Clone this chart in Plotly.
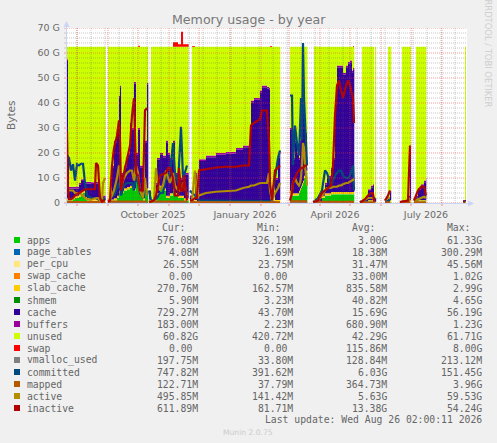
# Munin "Memory usage - by year" graph redrawn with plotly
from datetime import datetime, timedelta
import plotly.graph_objects as go

W, H = 497, 443
LEFT, RIGHT, TOP, BOTTOM = 67, 30, 28, 240

start = datetime(2025, 7, 22)
end = datetime(2026, 8, 26)

# sample days, counted from the start date. one row per uptime block of the host
days = [
    0, 1, 2, 4, 6, 8, 10, 12, 14, 16, 18, 20, 24, 28, 29, 31, 33, 35, 36, 38, 38.6,
    41, 43, 45, 47, 50, 52, 53, 54, 57, 60, 63, 65, 67, 69, 71, 73, 76, 78, 80, 81.3, 82,
    84, 87, 89, 90, 93, 96, 99, 101, 103, 106, 108, 111, 112, 114, 116, 117, 120, 121.7, 123,
    125, 128, 130, 132, 139, 149, 159, 169, 176, 182, 184, 187, 193, 195, 200, 202, 203, 205, 208, 211, 213, 213.3,
    223, 225, 226, 228, 230, 232, 233, 234, 235, 236, 237, 238, 240, 240.4,
    246, 247, 251, 255, 258, 260, 264, 266, 268, 270, 272, 274, 276, 279, 281, 283, 285, 286, 287, 287.3,
    293, 295, 298, 301, 304, 306, 307, 308, 309.2,
    318, 321, 323, 324.2,
    333, 335, 338, 341, 343, 344,
    347, 349, 351, 354, 357, 359, 359.3,
    396, 398, 399,
]

# all values in GB
apps = [
    1, 1, 1, 1, 1.5, 2, 2, 2.5, 3.5, 4, 1.5, 1, .8, .8, .8, .8, .5, .3, .3, .3, 0,
    .2, .3, .5, 1, 2, 4, 4.5, 4, 5, 5.5, 6, 6, 5, 9, 6, 3, 1, 4, 5, 0, .5,
    .2, .3, 1, 3, 6, 5, 2, 2, 3, 5, 3, 2, 2, 2, 2, 1, 1, 0, .2,
    .2, .3, .3, .3, .3, .3, .3, .3, .3, .3, .3, .3, .3, .3, .3, .3, .1, .2, .3, .3, .3, 0,
    3, 3, 3, 3, 3, 4, 5, 6, 7, 8, 10, 12, 12, 0,
    .1, .1, .5, 2, 3, 3, 3.5, 3.5, 3.5, 3.5, 3.5, 3.5, 3.5, 3.5, 3.5, 3.5, 3.5, 3.5, 3.5, 0,
    .05, .1, .2, .3, .3, .3, .2, .2, 0,
    .1, .2, .3, 0,
    .05, .1, .1, .3, .3, 0,
    .2, .3, .3, .3, .3, .3, 0,
    .1, .3, 0,
]
slab_cache = [
    .8, .8, .8, .8, .8, .8, .8, .8, .8, .8, .8, .8, .8, .8, .8, .8, .2, .2, .8, .8, 0,
    .2, .2, .8, .8, .8, .8, .8, .8, .8, .8, .8, .8, .8, .8, .8, .8, .8, .8, .8, 0, .8,
    .2, .2, .8, .8, .8, .8, .8, .8, .8, .8, .8, .8, .8, .8, .8, .8, .8, 0, .8,
    .2, .8, .2, .8, .8, .8, .8, .8, .8, .8, .8, .8, .8, .8, .8, .8, .2, .2, .8, .8, .8, 0,
    .8, .8, .8, .8, .8, .8, .8, .8, .8, .8, .8, .8, .8, 0,
    .2, .2, .2, .8, .8, .8, .8, .8, .8, .8, .8, .8, .8, .8, .8, .8, .8, .8, .8, 0,
    .1, .2, .2, .8, .8, .8, .2, .2, 0,
    .2, .2, .8, 0,
    .1, .2, .2, .8, .8, 0,
    .2, .8, .8, .8, .8, .8, 0,
    .2, .2, 0,
]
cache = [
    54.9, 16.4, 3.9, 3.9, 3.4, 2.9, 2.9, 3.9, 4.4, 3.9, 5.4, 5.9, 5.9, 5.9, 6.1, 6.1, 1.1, .3, 1.1, 1.1, 0,
    .4, .3, 12.9, 22.4, 26.4, 37.4, 40.9, 6.4, 8.4, 12.9, 24.4, 22.4, 41.9, 9.4, 22.4, 10.4, 5.4, 19.4, 41.4, 0, 2.9,
    .4, .3, 5.4, 13.4, 12.4, 12.4, 21.4, 16.4, 13.4, 18.4, 7.4, 4.4, 6.4, 6.4, 6.4, 9.4, 9.4, 0, 1.2,
    .4, 10.1, 1.3, 15.6, 17.1, 18.1, 18.6, 20.1, 21.1, 21.6, 39.1, 40.1, 43.1, 45.1, 44.6, 44.1, .3, .4, 8.1, 17.1, 19.1, 0,
    25.4, 23.4, 13.4, 20.4, 15.4, 12.4, 18.4, 30.4, 26.4, 45.4, 33.4, 14.4, .4, 0,
    .1, .2, 1.1, .4, 3.4, 6.4, 8.9, 12.9, 34.9, 49.9, 49.9, 49.9, 46.9, 49.9, 51.4, 51.9, 47.9, 48.9, 48.9, 0,
    0, .5, 1.4, 3.6, 5.1, 5.6, 1.4, 1.4, 0,
    .3, 1.9, 3.1, 0,
    0, .3, .5, 1.1, 21.1, 0,
    1.4, 1.1, 4.1, 5.6, 7.1, 8.1, 0,
    .1, .6, 0,
]
buffers = [
    .7, .7, .7, .7, .7, .7, .7, .7, .7, .7, .7, .7, .7, .7, .7, .7, .1, .1, .7, .7, 0,
    .1, .1, .7, .7, .7, .7, .7, .7, .7, .7, .7, .7, .7, .7, .7, .7, .7, .7, .7, 0, .7,
    .1, .1, .7, .7, .7, .7, .7, .7, .7, .7, .7, .7, .7, .7, .7, .7, .7, 0, .7,
    .1, .7, .1, .7, .7, .7, .7, .7, .7, .7, .7, .7, .7, .7, .7, .7, .1, .1, .7, .7, .7, 0,
    .7, .7, .7, .7, .7, .7, .7, .7, .7, .7, .7, .7, .7, 0,
    .1, .1, .1, .7, .7, .7, .7, .7, .7, .7, .7, .7, .7, .7, .7, .7, .7, .7, .7, 0,
    .05, .1, .1, .7, .7, .7, .1, .1, 0,
    .1, .1, .7, 0,
    .05, .1, .1, .7, .7, 0,
    .1, .7, .7, .7, .7, .7, 0,
    .1, .1, 0,
]
unused = [
    5, 43.5, 56, 56, 56, 56, 56, 54.5, 53, 53, 54, 54, 54.2, 54.2, 54, 54, 60.5, 61.5, 59.5, 59.5, 0,
    61.5, 61.5, 47.5, 37.5, 32.5, 19.5, 15.5, 50.5, 47.5, 42.5, 30.5, 32.5, 14, 42.5, 32.5, 47.5, 54.5, 37.5, 14.5, 0, 0,
    61.5, 61.5, 54.5, 44.5, 42.5, 43.5, 37.5, 42.5, 44.5, 37.5, 50.5, 54.5, 52.5, 52.5, 52.5, 50.5, 50.5, 0, 0,
    61.5, 50.5, 60.5, 45, 43.5, 42.5, 42, 40.5, 39.5, 39, 21.5, 20.5, 17.5, 15.5, 16, 16.5, 61.7, 61.5, 52.5, 43.5, 41.5, 0,
    32.5, 34.5, 44.5, 37.5, 42.5, 44.5, 37.5, 24.5, 27.5, 7.5, 17.5, 34.5, 48.5, 0,
    0, 61.9, 60.5, 58.5, 54.5, 51.5, 48.5, 44.5, 22.5, 7.5, 7.5, 7.5, 10.5, 7.5, 6, 5.5, 9.5, 8.5, 8.5, 0,
    0, 61.5, 60.5, 57, 55.5, 55, 0, 60.5, 0,
    0, 60, 57.5, 0,
    0, 61.7, 61.5, 59.5, 39.5, 0,
    0, 59.5, 56.5, 55, 53.5, 52.5, 0,
    0, 61.2, 0,
]
swap = [
    0, 0, 0, 0, 0, 0, 0, 0, 0, 0, 0, 0, 0, 0, 0, 0, 0, 0, 0, 0, 0,
    0, 0, 0, 0, 0, 0, 0, 0, 0, 0, 0, 0, 0, 0, .4, 0, 0, 0, 0, 0, 0,
    0, 0, 0, 0, 0, 0, 0, 0, 0, 1.8, 1.8, 1, 1, 6, 1, 1, 1, 0, 0,
    .3, 0, 0, 0, 0, 0, 0, 0, 0, 0, 0, 0, 0, 0, 0, 0, .3, 0, 0, 0, 0, 0,
    0, 0, 0, 0, 0, 0, 0, 0, 0, 0, 0, 0, 0, 0,
    0, 0, 0, 0, 0, 0, 0, 0, 0, 0, 0, 0, 0, 0, 0, 0, 0, .3, 0, 0,
    0, 0, 0, 0, 0, 0, 0, 0, 0,
    0, 0, 0, 0,
    0, 0, 0, 0, 0, 0,
    0, 0, 0, 0, 0, 0, 0,
    0, 0, 0,
]
committed = [
    18, 18.5, 18, 13, 15.5, 9, 15.5, 15, 15.7, 15.7, 8, 3, 2, 2, 2, 1.5, 1, 1, 2, 1, None,
    .5, 1, 3, 3, 6, 8, 7, 3, 7, 8, 8, 8, 5, 11, 8, 4, 2, 7, 3, None, 5,
    1, 1, 1.5, 2, 4, 4, 10, 10, 12, 24, 12, 8, 15, 30.5, 10, 11, 15, None, 5,
    4, 3, 2, 1, 1, 1, .8, .8, .8, .8, .8, .8, .8, .8, .8, .8, .8, 2, 10, 18, 21, None,
    43, 43, 15, 31, 24, 19, 30, 42, 25, 64, 42, 32, 15, None,
    .5, .6, 2, 5, 13, 12, 7, 9, 11, 12, 13, 13, 11, 10, 10, 11, 14, 15, 5, None,
    .3, .8, 1, 2, 2, 2, 2, 2, None,
    .8, 1, 1.5, None,
    .3, .5, .8, 1, 2, None,
    1, 1, 1.5, 2, 2.5, 2.5, None,
    .7, .75, None,
]
active = [
    4, 5, 5, 5, 5, 4, 4, 4, 3.5, 3, 2, 1.5, 1.3, 2, 2, 2, 1, 1, 8, 10, None,
    1, 1.5, 3, 5, 10, 15, 12, 6, 10, 12, 13, 13, 9, 15, 12, 5, 2, 10, 3, None, 1,
    .5, .5, 14, 10, 5, 7, 13, 10, 8, 12, 7, 5, 5, 5, 8, 8, 3, None, 1,
    1, 13, 2, 3, 4, 4.5, 4.7, 5, 6, 6.5, 7, 7, 8, 8, 8, 12, 5, 1, 4, 6, 8, None,
    4, 5, 8, 10, 8, 7, 8, 10, 16, 24, 22, 15, 7, None,
    .5, .5, 1, 3, 5, 6, 6, 6.5, 6.5, 6.5, 7, 7, 7.5, 8, 8, 8.5, 9, 9.5, 9.5, None,
    .3, .8, 1.5, 2, 2, 2, 1, 1, None,
    1, 2, 2, None,
    .4, .6, .8, 1, 2, None,
    .8, 1, 1.5, 2, 2.5, 2, None,
    .5, .5, None,
]
inactive = [
    29, 5, 1.5, 1.5, 2, 3, 3.5, 4, 4.5, 5, 5.5, 5.5, 5.5, 5.5, 16, 15, 2, .5, 1, 1, None,
    .5, 1, 15, 22, 27, 33, 25, 5, 12, 17, 23, 35, 42, 12, 11, 5, 5, 37, 38, None, .5,
    .5, 1, 3, 5, 11, 11.5, 12, 14, 14, 10, 3, 3, 14, 5, 5, 11, 1, None, 1,
    1, 2, 2, 13, 13.5, 14.2, 14.5, 14.5, 15, 15, 31, 32, 33.5, 37, 37, 25, 8, 1, 13, 14, 15, None,
    1, 4, 8, 10, 12, 13, 13.5, 14, 14, 14, 14.5, 15, 15, None,
    .3, .4, 1, 4, 5, 5.5, 7, 15, 35, 47, 49, 45, 42, 47, 49, 47, 43, 42, 32, None,
    .3, .6, 1.5, 3, 4, 4, 1, 1, None,
    1, 3, 5, None,
    .4, .6, .8, 1, 23, None,
    1, 3, 5, 6.5, 6.5, 3, None,
    .6, .61, None,
]

# barely visible series, one reading per uptime block
block_rows = [20, 19, 1, 17, 1, 21, 13, 19, 8, 3, 5, 6, 2]
block_gap = [1, 1, 0, 1, 0, 1, 1, 1, 1, 1, 1, 1, 1]
page_tables_blocks = [.02, .03, .02, .03, .02, .02, .03, .03, .01, .01, .01, .01, .01]
per_cpu_blocks = [.03, .03, .03, .03, .03, .03, .03, .03, .03, .03, .03, .03, .03]
swap_cache_blocks = [.01, .02, .01, .02, .01, .01, .02, .02, 0, 0, 0, 0, 0]
shmem_blocks = [.04, .02, .04, .02, .04, .04, .02, .02, .06, .06, .06, .06, .05]
vmalloc_blocks = [.13, .14, .1, .14, .1, .14, .15, .15, .12, .12, .12, .15, .2]
mapped_blocks = [.4, .6, .3, .6, .3, .3, .7, .5, .2, .2, .2, .2, .12]


def per_block(values, gap_value):
    out = []
    for v, rows, gap in zip(values, block_rows, block_gap):
        out += [v] * rows + [gap_value] * gap
    return out


names = ["apps", "page_tables", "per_cpu", "swap_cache", "slab_cache", "shmem", "cache", "buffers",
         "unused", "swap", "vmalloc_used", "committed", "mapped", "active", "inactive"]
colors = ["#00CC00", "#0066B3", "#FFE680", "#FF8000", "#FFCC00", "#008F00", "#330099", "#990099",
          "#CCFF00", "#FF0000", "#808080", "#00487D", "#B35A00", "#B38F00", "#B30000"]
cur_vals = ["576.08M", "4.08M", "26.55M", "0.00\u00a0", "270.76M", "5.90M", "729.27M", "183.00M",
            "60.82G", "0.00\u00a0", "197.75M", "747.82M", "122.71M", "495.85M", "611.89M"]
min_vals = ["326.19M", "1.69M", "23.75M", "0.00\u00a0", "162.57M", "3.23M", "43.70M", "2.23M",
            "420.72M", "0.00\u00a0", "33.80M", "391.62M", "37.79M", "141.42M", "81.71M"]
avg_vals = ["3.00G", "18.38M", "31.47M", "33.00M", "835.58M", "40.82M", "15.69G", "680.90M",
            "42.29G", "115.86M", "128.84M", "6.03G", "364.73M", "5.63G", "13.38G"]
max_vals = ["61.33G", "300.29M", "45.56M", "1.02G", "2.99G", "4.65G", "56.19G", "1.23G",
            "61.71G", "8.00G", "213.12M", "151.45G", "3.96G", "59.53G", "54.24G"]

y_ticks = [0, 10, 20, 30, 40, 50, 60, 70]
y_labels = ["0", "10 G", "20 G", "30 G", "40 G", "50 G", "60 G", "70 G"]
month_lines = ["2025-08-01", "2025-09-01", "2025-10-01", "2025-11-01", "2025-12-01", "2026-01-01",
               "2026-02-01", "2026-03-01", "2026-04-01", "2026-05-01", "2026-06-01", "2026-07-01", "2026-08-01"]
# RRDtool centres the labels between two quarter boundaries
x_label_dates = ["2025-10-16", "2026-01-16", "2026-04-16", "2026-07-16"]
x_labels = ["October 2025", "January 2026", "April 2026", "July 2026"]

dates = [start + timedelta(days=d) for d in days]

stacked = [apps, per_block(page_tables_blocks, 0), per_block(per_cpu_blocks, 0),
           per_block(swap_cache_blocks, 0), slab_cache, per_block(shmem_blocks, 0),
           cache, buffers, unused, swap]
lines = [per_block(vmalloc_blocks, None), committed, per_block(mapped_blocks, None), active, inactive]


def px_x(x):
    return (x - LEFT) / (W - LEFT - RIGHT)


def px_y(y):
    return (H - BOTTOM - y) / (H - TOP - BOTTOM)


fig = go.Figure()

for i, vals in enumerate(stacked):
    fig.add_trace(go.Scatter(
        x=dates, y=vals, name=names[i], mode="lines", stackgroup="mem",
        line=dict(width=0, shape="hv", color=colors[i]),
        fillcolor=colors[i], hoverinfo="skip",
    ))
for i, vals in enumerate(lines):
    fig.add_trace(go.Scatter(
        x=dates, y=vals, name=names[10 + i], mode="lines",
        line=dict(width=2.2, color=colors[10 + i]), hoverinfo="skip",
    ))

# --- grid goes on top of the areas, like rrdgraph does it
shapes = []
minor = "rgba(90,90,90,0.34)"
major = "rgba(240,60,60,0.5)"
for g in range(0, 72, 2):
    shapes.append(dict(type="line", layer="above", xref="paper", x0=0, x1=1, y0=g, y1=g,
                       line=dict(color=major if g % 10 == 0 else minor, width=1, dash="1px,1px")))
for d in range(10, 400, 14):
    day = start + timedelta(days=d)
    shapes.append(dict(type="line", layer="above", x0=day, x1=day, yref="paper", y0=0, y1=1,
                       line=dict(color=minor, width=1, dash="1px,1px")))
for m in month_lines:
    shapes.append(dict(type="line", layer="above", x0=m, x1=m, yref="paper", y0=0, y1=1,
                       line=dict(color=major, width=1, dash="1px,1px")))
    shapes.append(dict(type="line", layer="above", x0=m, x1=m, yref="paper", y0=px_y(206), y1=px_y(203),
                       line=dict(color="rgba(240,90,90,0.7)", width=1)))
for g in range(0, 72, 2):
    shapes.append(dict(type="line", layer="above", xref="paper", yref="y", x0=px_x(64), x1=px_x(67), y0=g, y1=g,
                       line=dict(color="rgba(240,90,90,0.6)" if g % 10 == 0 else "rgba(170,170,170,0.6)", width=1)))

# axis lines with their little arrow heads
axis_col = "#CCD4F5"
shapes.append(dict(type="line", layer="above", xref="paper", yref="paper", x0=px_x(66.5), x1=px_x(66.5),
                   y0=px_y(206), y1=px_y(26), line=dict(color=axis_col, width=1)))
shapes.append(dict(type="line", layer="above", xref="paper", yref="paper", x0=px_x(64), x1=px_x(468),
                   y0=px_y(203.5), y1=px_y(203.5), line=dict(color=axis_col, width=1)))
shapes.append(dict(type="path", layer="above", xref="paper", yref="paper", line=dict(width=0), fillcolor=axis_col,
                   path=f"M {px_x(63.5)} {px_y(27)} L {px_x(69.5)} {px_y(27)} L {px_x(66.5)} {px_y(21)} Z"))
shapes.append(dict(type="path", layer="above", xref="paper", yref="paper", line=dict(width=0), fillcolor=axis_col,
                   path=f"M {px_x(468)} {px_y(200.5)} L {px_x(468)} {px_y(206.5)} L {px_x(474)} {px_y(203.5)} Z"))

# legend table
mono = "DejaVu Sans Mono"
grey = "#666666"
annotations = []


def put_text(x, y, text, anchor="left", size=9.75, family=mono, color=grey, angle=0):
    annotations.append(dict(xref="paper", yref="paper", x=px_x(x), y=px_y(y), text=text, showarrow=False,
                            xanchor=anchor, yanchor="middle", textangle=angle, borderpad=0,
                            font=dict(family=family, size=size, color=color)))


col_right = [199, 293.5, 388, 483]
for x, label in zip([185.5, 280.5, 376, 470.5], ["Cur:", "Min:", "Avg:", "Max:"]):
    put_text(x, 227.5, label, anchor="right")
for i, name in enumerate(names):
    y = 240 + i * 12
    shapes.append(dict(type="rect", layer="above", xref="paper", yref="paper", x0=px_x(14), x1=px_x(20),
                       y0=px_y(y + 3), y1=px_y(y - 3), line=dict(width=0), fillcolor=colors[i]))
    put_text(26, y, name)
    for x, col in zip(col_right, [cur_vals, min_vals, avg_vals, max_vals]):
        put_text(x, y, col[i], anchor="right")
put_text(483, 419.5, "Last update: Wed Aug 26 02:00:11 2026", anchor="right")

sans = "DejaVu Sans"
put_text(248.5, 19.5, "Memory usage - by year", anchor="center", size=12.6, family=sans, color="#777777")
put_text(11, 115, "Bytes", anchor="center", size=10.5, family=sans, color="#6A6A6A", angle=-90)
put_text(488, 53.5, "RRDTOOL / TOBI OETIKER", anchor="center", size=8.4, family=sans, color="#CFCFCF", angle=90)
put_text(248, 432, "Munin 2.0.75", anchor="center", size=7.6, family=sans, color="#CCCCCC")

fig.update_layout(
    width=W, height=H, autosize=False,
    margin=dict(l=LEFT, r=RIGHT, t=TOP, b=BOTTOM, pad=0),
    paper_bgcolor="#F0F0F0", plot_bgcolor="#FFFFFF",
    showlegend=False, shapes=shapes, annotations=annotations,
    font=dict(family=sans, size=9.5, color="#6A6A6A"),
)
fig.update_xaxes(range=[start, end], type="date", showgrid=False, zeroline=False, showline=False,
                 tickvals=x_label_dates, ticktext=x_labels, ticks="", tickangle=0, ticklabelstandoff=4)
fig.update_yaxes(range=[0, 70], showgrid=False, zeroline=False, showline=False,
                 tickvals=y_ticks, ticktext=y_labels, ticks="", ticklabelstandoff=6)

fig.write_html("out.html", config={"displayModeBar": False}, post_script="document.body.style.margin='0';")
